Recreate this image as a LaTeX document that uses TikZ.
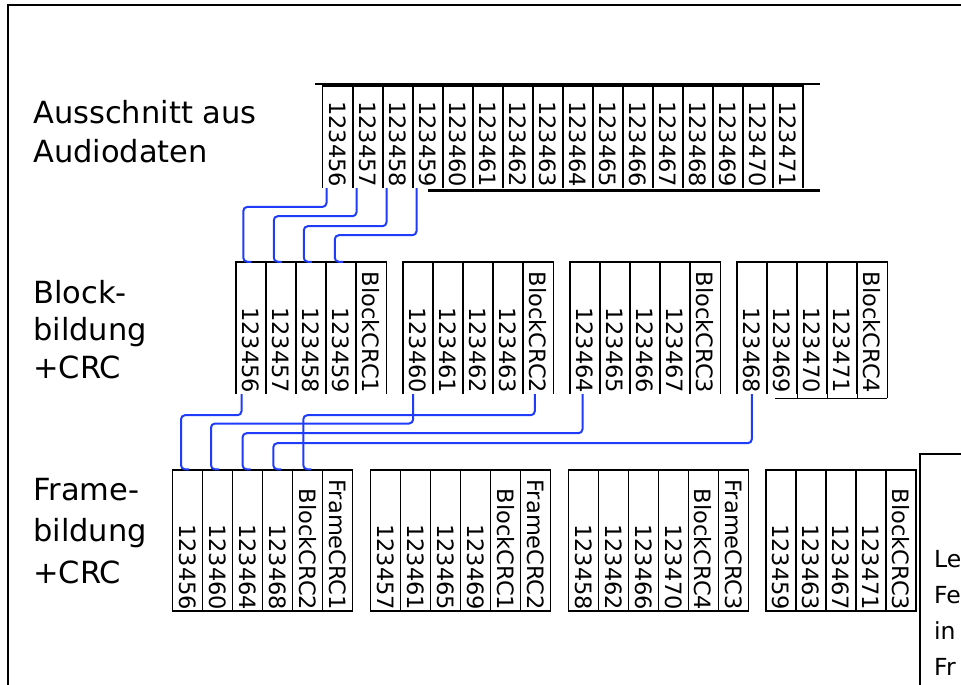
\documentclass[tikz,border=0pt]{standalone}
\usepackage{graphicx}
\usepackage{fontspec}
\setmainfont{DejaVu Sans}
\usepackage{tikz}
\definecolor{wireblue}{RGB}{30,60,250}
\newcommand{\celltext}[2]{\rotatebox{-90}{\makebox[#1][r]{#2}}}

\begin{document}
\begin{tikzpicture}[x=1pt,y=-1pt,
  slot/.style={inner sep=0pt,minimum width=30pt,font=\fontsize{22.5}{27}\selectfont},
  cell/.style={line width=1.4pt,black},
  tape/.style={line width=2.2pt,black},
  wire/.style={line width=2pt,wireblue,rounded corners=4pt},
  caption/.style={anchor=north west,inner sep=0pt,align=left}]
  \useasboundingbox (0,0) rectangle (961,685);
  % outer frame
  \draw[line width=2.7pt] (8,685) -- (8,5) -- (961,5);

  % Audiodaten strip
  \node[caption,font=\fontsize{30.5}{39}\selectfont] (audio) at (33,99.7) {Ausschnitt aus\\Audiodaten};
  \draw[tape] (315,84) -- (820,84);
  \draw[tape] (428,190.5) -- (820,190.5);
  \foreach \i in {0,...,15} {
    \pgfmathtruncatemacro\n{56+\i}
    \node[slot,minimum height=102pt] (a\n) at (337.7+30*\i,137) {\celltext{100pt}{1234\n}};
    \draw[cell] (a\n.south west) -- (a\n.north west) -- (a\n.north east) -- (a\n.south east);
  }

  % Blockbildung
  \node[caption,font=\fontsize{30.5}{37.5}\selectfont] (block) at (33,280) {Block-\\bildung\\+CRC};
  \foreach \k in {0,...,3} {
    \foreach \j in {0,...,3} {
      \pgfmathtruncatemacro\n{56+4*\k+\j}
      \node[slot,minimum height=132pt] (b\n) at (251+167*\k+30*\j,328) {\celltext{130pt}{1234\n}};
      \draw[cell] (b\n.south west) -- (b\n.north west) -- (b\n.north east) -- (b\n.south east);
    }
    \pgfmathtruncatemacro\m{\k+1}
    \node[slot,minimum height=132pt] (bc\m) at (371+167*\k,328) {\celltext{130pt}{BlockCRC\m}};
    \draw[cell] (bc\m.south west) -- (bc\m.north west) -- (bc\m.north east) -- (bc\m.south east);
  }
  \foreach \nm in {b69,b70,b71,bc4}
    \draw[cell] (\nm.south east) -- ++(0,4);
  \draw[cell] ([shift={(8pt,-4pt)}]b69.south west) -- ([yshift=-4pt]bc4.south east);

  % Framebildung
  \node[caption,font=\fontsize{30.5}{41.5}\selectfont] (frame) at (33,477.7) {Frame-\\bildung\\+CRC};
  \foreach \k/\bc in {0/2,1/1,2/4,3/3} {
    \foreach \j in {0,...,3} {
      \pgfmathtruncatemacro\n{56+\k+4*\j}
      \node[slot,draw,cell,minimum height=141pt] (f\n) at (187.7+197.8*\k+30*\j,540.5) {\celltext{139pt}{1234\n}};
    }
    \node[slot,draw,cell,minimum height=141pt] (fb\bc) at (307.7+197.8*\k,540.5) {\celltext{139pt}{BlockCRC\bc}};
  }
  \foreach \k in {0,1,2} {
    \pgfmathtruncatemacro\m{\k+1}
    \node[slot,draw,cell,minimum height=141pt] (fc\m) at (337.7+197.8*\k,540.5) {\celltext{139pt}{FrameCRC\m}};
  }

  % Strip -> Bloecke
  \foreach \n/\d/\t in {56/18.7/7.5,57/28/8,58/38/8,59/47/9}
    \draw[wire] ([xshift=4pt]a\n.south west) -- ++(0,\d) -| ([xshift=\t pt]b\n.north west) -- ++(8,0);

  % Bloecke -> Frame
  \draw[wire] ([xshift=5.7pt]b56.south west) -- ++(0,21) -| ([xshift=9pt]f56.north west) -- ++(8,0);
  \draw[wire] ([xshift=10.3pt]b60.south west) -- ++(0,29.3) -| ([xshift=9pt]f60.north west) -- ++(8,0);
  \draw[wire] ([xshift=12pt]bc2.south west) -- ++(0,21) -| ([xshift=11.3pt]fb2.north west) -- ++(8,0);
  \draw[wire] ([xshift=12.7pt]b64.south west) -- ++(0,39) -| ([xshift=10.6pt]f64.north west) -- ++(8,0);
  \draw[wire] ([xshift=15pt]b68.south west) -- ++(0,49) -| ([xshift=11.3pt]f68.north west) -- ++(8,0);

  % Legende (rechts abgeschnitten)
  \draw[cell,fill=white] (920,454) -- (990,454) -- (990,700) -- (920,700) -- cycle;
  \node[caption,font=\fontsize{23.5}{36}\selectfont] (legend) at (934,550) {Le\\Fe\\in\\Fr};
\end{tikzpicture}
\end{document}
